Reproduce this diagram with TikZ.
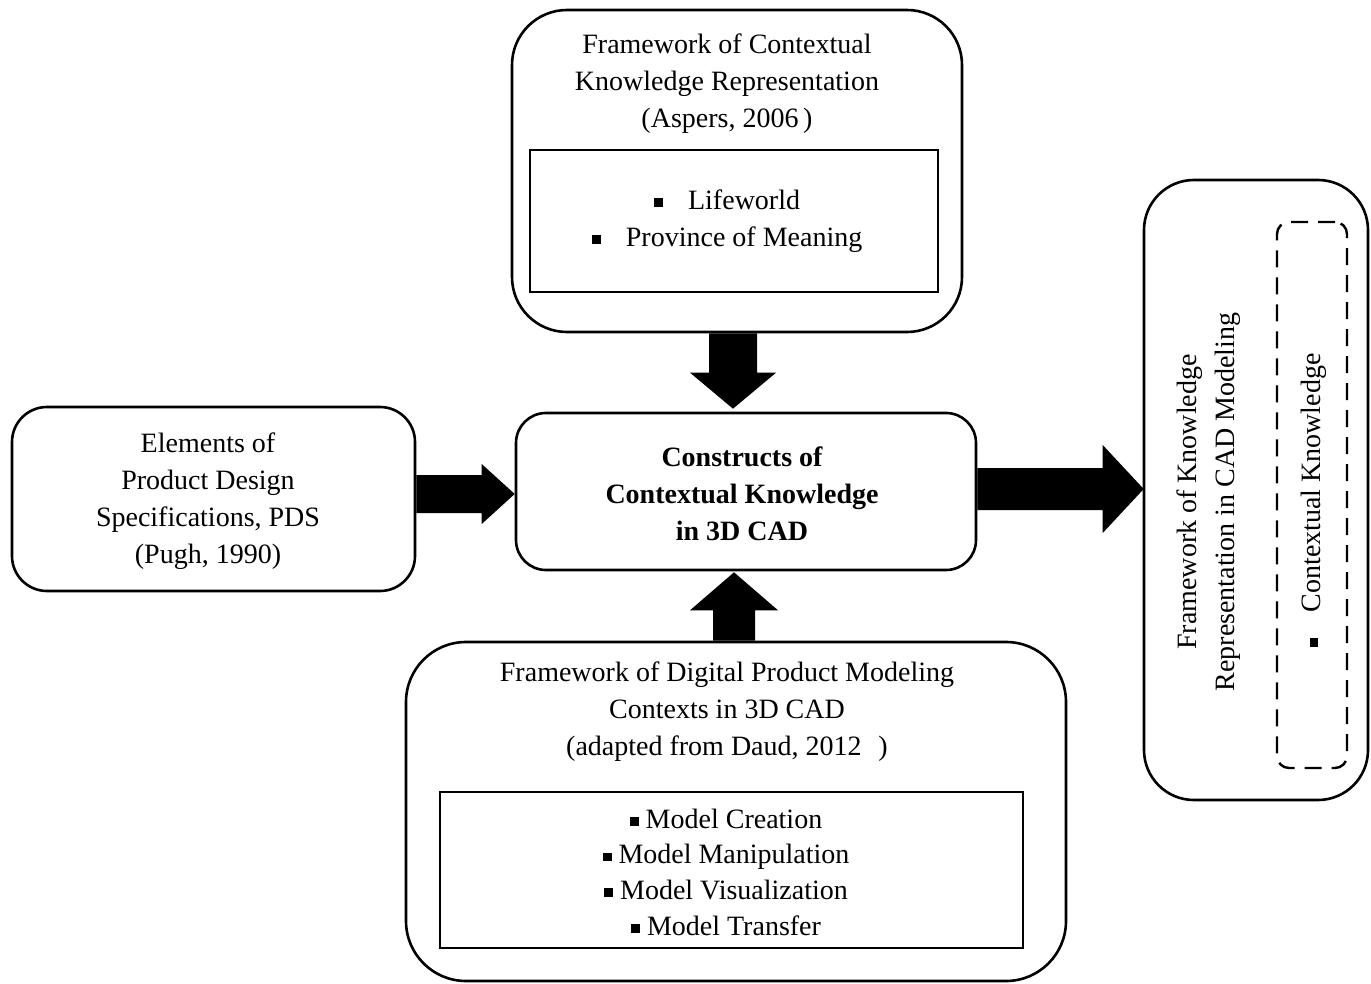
\documentclass[tikz,border=0pt]{standalone}
\usepackage{fontspec}
\setmainfont{Liberation Serif}
\usetikzlibrary{calc}
\newcommand\sqbul{\rule[0.08em]{0.32em}{0.32em}}
\newcommand\fatarrow[5]{%
  \coordinate (H) at ($(#2)!#5!(#1)$);
  \fill ($(#1)!#3!90:(#2)$) -- ($(H)!#3!90:(#2)$) -- ($(H)!#4!90:(#2)$) -- (#2)
    -- ($(H)!#4!-90:(#2)$) -- ($(H)!#3!-90:(#2)$) -- ($(#1)!#3!-90:(#2)$) -- cycle;}
\tikzset{
  box/.style={draw, line width=2.6pt, inner sep=0pt},
  inner/.style={draw, line width=2.2pt, inner sep=0pt},
  txt/.style={align=center, inner sep=0pt, font=\fontsize{28}{37}\selectfont},
}
\begin{document}
\begin{tikzpicture}[x=1pt,y=-1pt]
\useasboundingbox (0,0) rectangle (1371,984);
% boxes
\node[box, rounded corners=55pt, minimum width=450pt, minimum height=322pt] (top) at (737,171) {};
\node[inner, minimum width=408pt, minimum height=142pt] (topin) at (734,221) {};
\node[box, rounded corners=30pt, minimum width=460pt, minimum height=157pt] (ctr) at (746,491.5) {};
\node[box, rounded corners=35pt, minimum width=403pt, minimum height=184pt] (left) at (213.5,499) {};
\node[box, rounded corners=60pt, minimum width=660pt, minimum height=339pt] (bot) at (736,811.5) {};
\node[inner, minimum width=583pt, minimum height=156pt] (botin) at (731.5,870) {};
\node[box, rounded corners=50pt, minimum width=224pt, minimum height=620pt] (right) at (1256,490) {};
\node[draw, line width=2.4pt, dash pattern=on 17pt off 10pt, rounded corners=12pt, inner sep=0pt,
      minimum width=70pt, minimum height=546pt] (rdash) at (1312,495) {};
% texts
\node[txt] (toptext) at (727,84) {Framework of Contextual\\Knowledge Representation\\(Aspers, 2006\,)};
\node[txt] (toplist) at (727,221) {\sqbul\hspace{0.9em}Lifeworld\\\sqbul\hspace{0.9em}Province of Meaning};
\node[txt, font=\fontsize{28}{37}\selectfont\bfseries] (ctrtext) at (742,494) {Constructs of\\Contextual Knowledge\\in 3D CAD};
\node[txt] (lefttext) at (208,501) {Elements of\\Product Design\\Specifications, PDS\\(Pugh, 1990)};
\node[txt] (bottext) at (727,711.5) {Framework of Digital Product Modeling\\Contexts in 3D CAD\\(adapted from Daud, 2012\hspace{0.6em})};
\node[txt, font=\fontsize{28}{35.7}\selectfont] (botlist) at (726,872) {\sqbul\ Model Creation\\\sqbul\ Model Manipulation\\\sqbul\ Model Visualization\\\sqbul\ Model Transfer};
\node[txt, rotate=90, font=\fontsize{28}{38}\selectfont] (righttext) at (1209,502) {Framework of Knowledge\\Representation in CAD Modeling};
\node[txt, rotate=90] (dashtext) at (1314,500) {\sqbul\hspace{0.9em}Contextual Knowledge};
% arrows
\coordinate (dA) at ($(top.south)+(-4,0)$);
\coordinate (dB) at ($(ctr.north)+(-13,-3)$);
\fatarrow{dA}{dB}{24pt}{43pt}{36pt}
\coordinate (lA) at ($(left.east)+(0,-5)$);
\coordinate (lB) at ($(ctr.west)+(0,2.5)$);
\fatarrow{lA}{lB}{19pt}{30pt}{33pt}
\coordinate (uA) at ($(bot.north)+(-2,0)$);
\coordinate (uB) at ($(ctr.south)+(-12,1)$);
\fatarrow{uA}{uB}{21pt}{44pt}{38pt}
\coordinate (rA) at ($(ctr.east)+(0,-2.5)$);
\coordinate (rB) at ($(right.west)+(1,-1)$);
\fatarrow{rA}{rB}{21pt}{44pt}{41pt}
\end{tikzpicture}
\end{document}
